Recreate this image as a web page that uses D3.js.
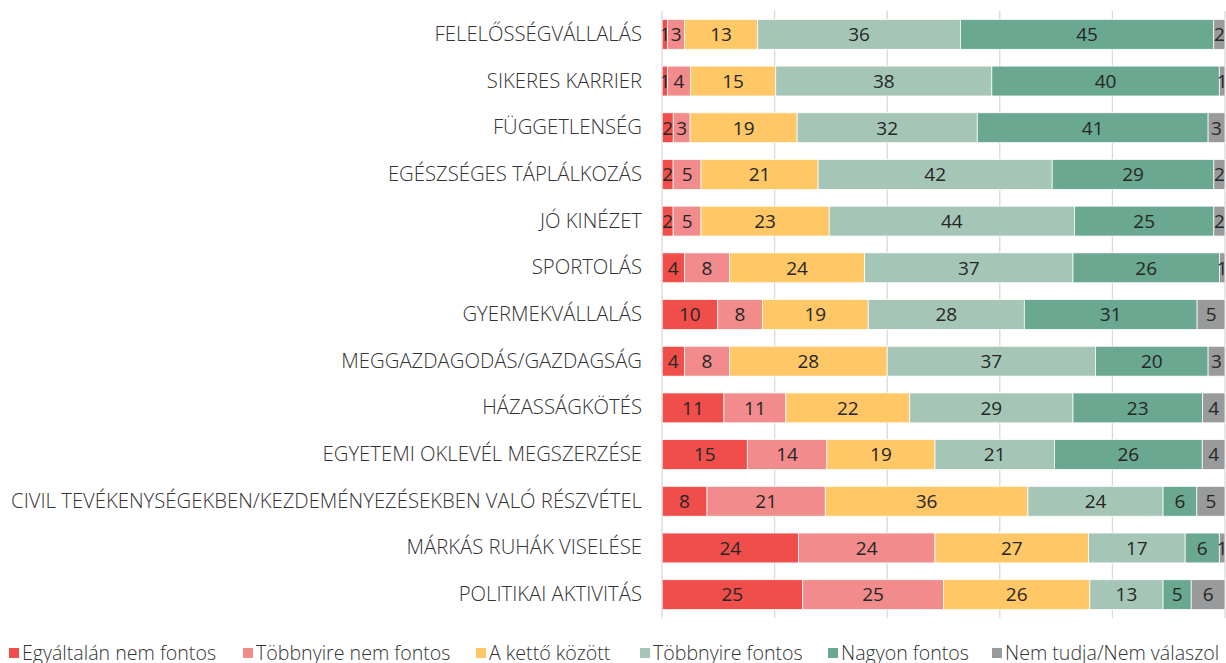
<!DOCTYPE html>
<html>
<head>
<meta charset="utf-8">
<script src="https://cdn.jsdelivr.net/npm/d3@7"></script>
<style>
  html, body { margin: 0; padding: 0; background: #fff; }
  svg { display: block; font-family: "Open Sans", sans-serif; }
</style>
</head>
<body>
<svg id="chart" width="1226" height="663"></svg>
<script>
const categories = [
  "FELELŐSSÉGVÁLLALÁS",
  "SIKERES KARRIER",
  "FÜGGETLENSÉG",
  "EGÉSZSÉGES TÁPLÁLKOZÁS",
  "JÓ KINÉZET",
  "SPORTOLÁS",
  "GYERMEKVÁLLALÁS",
  "MEGGAZDAGODÁS/GAZDAGSÁG",
  "HÁZASSÁGKÖTÉS",
  "EGYETEMI OKLEVÉL MEGSZERZÉSE",
  "CIVIL TEVÉKENYSÉGEKBEN/KEZDEMÉNYEZÉSEKBEN VALÓ RÉSZVÉTEL",
  "MÁRKÁS RUHÁK VISELÉSE",
  "POLITIKAI AKTIVITÁS"
];
const seriesNames = [
  "Egyáltalán nem fontos",
  "Többnyire nem fontos",
  "A kettő között",
  "Többnyire fontos",
  "Nagyon fontos",
  "Nem tudja/Nem válaszol"
];
const egyaltalan = [1, 1, 2, 2, 2, 4, 10, 4, 11, 15, 8, 24, 25];
const tobbnyireNem = [3, 4, 3, 5, 5, 8, 8, 8, 11, 14, 21, 24, 25];
const ketto = [13, 15, 19, 21, 23, 24, 19, 28, 22, 19, 36, 27, 26];
const tobbnyireFontos = [36, 38, 32, 42, 44, 37, 28, 37, 29, 21, 24, 17, 13];
const nagyon = [45, 40, 41, 29, 25, 26, 31, 20, 23, 26, 6, 6, 5];
const nemTudja = [2, 1, 3, 2, 2, 1, 5, 3, 4, 4, 5, 1, 6];
const gridTicks = [0, 0.2, 0.4, 0.6, 0.8, 1];
const colors = ["#F04E4B", "#F28B8B", "#FFC766", "#A5C6B7", "#6AA891", "#999A9B"];

const seriesValues = [egyaltalan, tobbnyireNem, ketto, tobbnyireFontos, nagyon, nemTudja];
const keys = seriesNames;
const rows = categories.map((c, i) => {
  const r = { cat: c };
  keys.forEach((k, j) => r[k] = seriesValues[j][i]);
  return r;
});

const svg = d3.select("#chart");
const pLeft = 662, pRight = 1225, pTop = 11, pBottom = 618;

const x = d3.scaleLinear().domain([0, 1]).range([pLeft, pRight]);
const y = d3.scaleBand().domain(categories).range([pTop, pBottom]).paddingInner(0.36).paddingOuter(0.18);

// gridlines
svg.append("g").selectAll("line").data(gridTicks.slice(1)).join("line")
  .attr("x1", d => x(d)).attr("x2", d => x(d))
  .attr("y1", pTop).attr("y2", pBottom)
  .attr("stroke", "#D9D9D9").attr("stroke-width", 1.3);

const stack = d3.stack().keys(keys).offset(d3.stackOffsetExpand);
const stacked = stack(rows);

const g = svg.append("g");
stacked.forEach((layer, li) => {
  g.append("g").selectAll("rect").data(layer).join("rect")
    .attr("x", d => x(d[0]))
    .attr("width", d => Math.max(0, x(d[1]) - x(d[0])))
    .attr("y", d => y(d.data.cat))
    .attr("height", y.bandwidth())
    .attr("fill", colors[li])
    .attr("stroke", "#fff").attr("stroke-width", 0.75);
});
stacked.forEach((layer, li) => {
  g.append("g").selectAll("text").data(layer).join("text")
    .attr("x", d => (x(d[0]) + x(d[1])) / 2)
    .attr("y", d => y(d.data.cat) + y.bandwidth() / 2)
    .attr("dy", "0.36em")
    .attr("text-anchor", "middle")
    .attr("font-size", 19)
    .attr("fill", "#262626")
    .text(d => d.data[layer.key]);
});

// axis line
svg.append("line").attr("x1", pLeft).attr("x2", pLeft).attr("y1", pTop).attr("y2", pBottom)
  .attr("stroke", "#D9D9D9").attr("stroke-width", 1.3);

// category labels
const yAxis = d3.axisLeft(y).tickSize(0).tickPadding(20);
const ag = svg.append("g").attr("transform", `translate(${pLeft},0)`).call(yAxis);
ag.select(".domain").remove();
ag.selectAll("text").attr("font-size", 20.3).attr("fill", "#333333")
  .attr("font-family", "'Open Sans', sans-serif").attr("font-weight", 300);

// legend
const legendX = [9, 243, 476, 640, 828, 992];
const lgd = svg.append("g");
seriesNames.forEach((n, i) => {
  const it = lgd.append("g").attr("transform", `translate(${legendX[i]},653)`);
  it.append("rect").attr("x", 0).attr("y", -5).attr("width", 10).attr("height", 10).attr("fill", colors[i]);
  it.append("text").attr("x", 13).attr("y", 0).attr("dy", "0.36em")
    .attr("font-size", 19.6).attr("fill", "#333333").attr("font-weight", 300).text(n);
});
</script>
</body>
</html>
